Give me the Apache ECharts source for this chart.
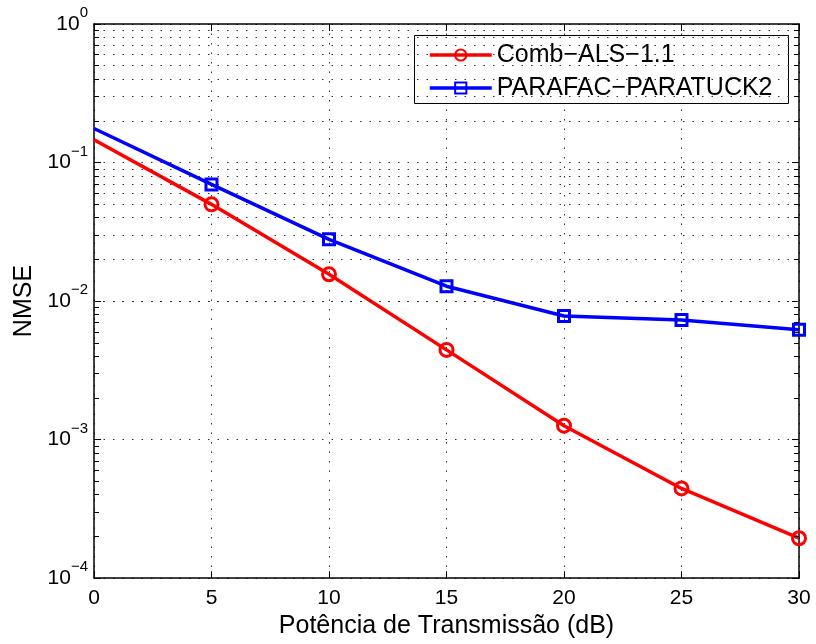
<!DOCTYPE html>
<html><head><meta charset="utf-8">
<script src="https://cdn.jsdelivr.net/npm/echarts@6/dist/echarts.min.js"></script>
<style>html,body{margin:0;padding:0;background:#fff}#c{width:816px;height:644px}</style>
</head><body><div id="c"></div>
<script>
const xValues = [0, 5, 10, 15, 20, 25, 30];
const combALS = [0.146, 0.0499, 0.0156, 0.00444, 0.00126, 0.000444, 0.000194];
const parafacParatuck = [0.176, 0.0695, 0.0279, 0.0128, 0.0078, 0.0073, 0.0062];
const seriesNames = ['Comb\u2212ALS\u22121.1', 'PARAFAC\u2212PARATUCK2'];
const xTickValues = [0, 5, 10, 15, 20, 25, 30];
const yDecades = [-4, -3, -2, -1, 0];
const xTitle = 'Potência de Transmissão (dB)';
const yTitle = 'NMSE';

const FONT = 'Liberation Sans, Arial, Helvetica, sans-serif';
const xMin = xTickValues[0], xMax = xTickValues[xTickValues.length - 1];
const yMin = Math.pow(10, yDecades[0]), yMax = Math.pow(10, yDecades[yDecades.length - 1]);
const LW = 3.5;

const minorVals = [];
for (let i = 0; i < yDecades.length - 1; i++) {
  for (let k = 2; k <= 9; k++) minorVals.push(k * Math.pow(10, yDecades[i]));
}
const tickLenX = (xMax - xMin) * 5 / 705;

function buildData(ys) {
  return xValues.map((x, i) => i === 0 ? { value: [x, ys[i]], symbol: 'none' } : [x, ys[i]]);
}

const gridLines = minorVals.map(v => ({ yAxis: v }));
const minorTicks = [];
minorVals.forEach(v => {
  minorTicks.push([{ coord: [xMin, v] }, { coord: [xMin + tickLenX, v] }]);
  minorTicks.push([{ coord: [xMax - tickLenX, v] }, { coord: [xMax, v] }]);
});

const chart = echarts.init(document.getElementById('c'), null, { renderer: 'canvas' });
const dotted = { type: [1.5, 8], color: '#333', width: 1 };
const yLabelFmt = v => {
  const e = Math.round(Math.log10(v));
  return '{b|10}{s|' + (e === 0 ? '0' : '\u2212' + (-e)) + '}';
};
const yRich = {
  b: { fontSize: 21, fontFamily: FONT, color: '#000', verticalAlign: 'middle' },
  s: { fontSize: 15, fontFamily: FONT, color: '#000', padding: [0, 0, 22, 0], verticalAlign: 'middle' }
};

chart.setOption({
  animation: false,
  backgroundColor: '#fff',
  grid: { left: 94, right: 17, top: 24, bottom: 64, containLabel: false },
  graphic: [{
    type: 'rect', left: 414, top: 35, z: 3,
    shape: { width: 374, height: 68 },
    style: { fill: '#fff', stroke: '#000', lineWidth: 1 }
  }],
  legend: {
    data: [
      { name: seriesNames[0], lineStyle: { width: LW } },
      { name: seriesNames[1], lineStyle: { width: LW } }
    ],
    orient: 'vertical', left: 428, top: 41, padding: 0,
    itemWidth: 62, itemHeight: 14, itemGap: 5, z: 5,
    textStyle: { fontSize: 25, fontFamily: FONT, color: '#000', lineHeight: 28 }
  },
  xAxis: [{
    type: 'value', min: xMin, max: xMax, interval: 5, position: 'bottom',
    name: xTitle, nameLocation: 'middle', nameGap: 33,
    nameTextStyle: { fontSize: 25, fontFamily: FONT, color: '#000' },
    axisLine: { onZero: false, lineStyle: { color: '#000', width: 1.5 } },
    axisTick: { inside: true, length: 7, lineStyle: { color: '#000', width: 1 } },
    axisLabel: { fontSize: 21, fontFamily: FONT, color: '#000', margin: 10 },
    splitLine: { show: true, lineStyle: dotted }
  }, {
    type: 'value', min: xMin, max: xMax, interval: 5, position: 'top',
    axisLine: { onZero: false, lineStyle: { color: '#000', width: 1.5 } },
    axisTick: { inside: true, length: 7, lineStyle: { color: '#000', width: 1 } },
    axisLabel: { show: false }, splitLine: { show: false }
  }],
  yAxis: [{
    type: 'log', logBase: 10, min: yMin, max: yMax, position: 'left',
    name: yTitle, nameLocation: 'middle', nameGap: 56,
    nameTextStyle: { fontSize: 25, fontFamily: FONT, color: '#000' },
    axisLine: { onZero: false, lineStyle: { color: '#000', width: 1.5 } },
    axisTick: { inside: true, length: 7, lineStyle: { color: '#000', width: 1 } },
    axisLabel: { formatter: yLabelFmt, rich: yRich, margin: 6 },
    splitLine: { show: true, lineStyle: dotted }
  }, {
    type: 'log', logBase: 10, min: yMin, max: yMax, position: 'right',
    axisLine: { onZero: false, lineStyle: { color: '#000', width: 1.5 } },
    axisTick: { inside: true, length: 7, lineStyle: { color: '#000', width: 1 } },
    axisLabel: { show: false }, splitLine: { show: false }
  }],
  series: [{
    name: '_grid', type: 'line', data: buildData(combALS), z: 1, silent: true,
    symbol: 'none', lineStyle: { opacity: 0 },
    markLine: {
      silent: true, symbol: 'none', label: { show: false },
      lineStyle: dotted, emphasis: { disabled: true },
      data: gridLines
    }
  }, {
    name: '_ticks', type: 'line', data: buildData(combALS), z: 1, silent: true,
    symbol: 'none', lineStyle: { opacity: 0 },
    markLine: {
      silent: true, symbol: 'none', label: { show: false },
      lineStyle: { type: 'solid', color: '#000', width: 1 }, emphasis: { disabled: true },
      data: minorTicks
    }
  }, {
    name: seriesNames[0], type: 'line', data: buildData(combALS), z: 4,
    symbol: 'circle', symbolSize: 13, showAllSymbol: true,
    lineStyle: { color: '#ff0000', width: LW },
    itemStyle: { color: 'rgba(0,0,0,0)', borderColor: '#ff0000', borderWidth: 3 },
    emphasis: { disabled: true }
  }, {
    name: seriesNames[1], type: 'line', data: buildData(parafacParatuck), z: 4,
    symbol: 'rect', symbolSize: 11, showAllSymbol: true,
    lineStyle: { color: '#0000ff', width: LW },
    itemStyle: { color: 'rgba(0,0,0,0)', borderColor: '#0000ff', borderWidth: 3 },
    emphasis: { disabled: true }
  }]
});
</script></body></html>
